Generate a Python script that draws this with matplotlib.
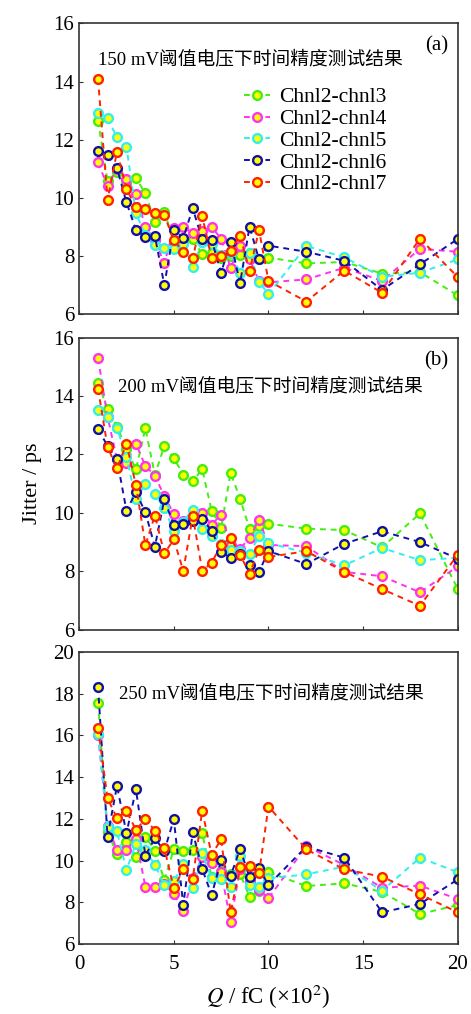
import matplotlib
matplotlib.use('Agg')
import matplotlib.pyplot as plt

plt.rcParams['font.family'] = ['Liberation Serif', 'Noto Sans CJK SC', 'DejaVu Sans']
plt.rcParams['mathtext.fontset'] = 'stix'

# 电荷量 Q (x100 fC)
q = [1, 1.5, 2, 2.5, 3, 3.5, 4, 4.5, 5, 5.5, 6, 6.5, 7, 7.5, 8, 8.5, 9, 9.5, 10, 12, 14, 16, 18, 20]

labels = ['Chnl2-chnl3', 'Chnl2-chnl4', 'Chnl2-chnl5', 'Chnl2-chnl6', 'Chnl2-chnl7']
colors = ['#44ee11', '#ff33ee', '#33eeee', '#1111aa', '#ff2200']

# (a) 150 mV
a_ch3 = [12.66, 10.58, 10.9, 10.5, 10.67, 10.16, 9.18, 9.53, 8.5, 8.45, 8.6, 8.06, 8.1, 7.95, 8.0, 8.05, 8.1, 7.9, 7.95, 7.75, 7.8, 7.4, 7.45, 6.65]
a_ch4 = [11.22, 10.4, 11.0, 10.65, 10.13, 9.0, 8.55, 7.75, 8.95, 9.0, 8.8, 8.85, 9.0, 8.6, 7.6, 8.35, 7.9, 7.15, 7.1, 7.2, 7.6, 7.15, 8.25, 8.15]
a_ch5 = [12.91, 12.74, 12.08, 11.76, 9.47, 8.72, 8.38, 8.29, 8.24, 8.4, 7.64, 8.5, 8.4, 8.05, 8.1, 7.43, 8.1, 7.12, 6.69, 8.35, 7.96, 7.29, 7.43, 7.89]
a_ch6 = [11.62, 11.46, 11.02, 9.85, 8.9, 8.67, 8.69, 7.01, 8.9, 8.63, 9.64, 8.58, 8.55, 7.43, 8.5, 7.07, 9.01, 7.89, 8.36, 8.15, 7.84, 6.84, 7.72, 8.59]
a_ch7 = [14.09, 9.93, 11.59, 10.31, 9.68, 9.62, 9.49, 9.41, 8.55, 8.15, 7.92, 9.38, 7.92, 8.02, 8.18, 8.7, 7.49, 8.9, 7.15, 6.44, 7.5, 6.74, 8.6, 7.28]

# (b) 200 mV
b_ch3 = [14.46, 13.55, 12.95, 12.2, 11.49, 12.89, 11.3, 12.29, 11.89, 11.29, 11.09, 11.49, 10.08, 9.49, 11.37, 10.49, 9.45, 9.55, 9.63, 9.46, 9.41, 8.82, 9.98, 7.39]
b_ch4 = [15.29, 13.3, 11.83, 11.71, 12.37, 11.6, 11.28, 10.57, 9.97, 9.71, 9.75, 10.0, 9.6, 9.94, 8.9, 8.77, 9.14, 9.77, 8.9, 8.86, 7.98, 7.83, 7.28, 8.17]
b_ch5 = [13.51, 13.27, 12.91, 11.9, 10.46, 11.0, 10.63, 10.17, 9.37, 9.7, 10.11, 9.46, 9.2, 8.95, 8.74, 8.7, 8.6, 9.2, 8.97, 8.63, 8.2, 8.8, 8.38, 8.46]
b_ch6 = [12.86, 12.3, 11.83, 10.08, 10.7, 10.02, 8.84, 10.46, 9.58, 9.63, 9.71, 9.79, 9.39, 8.66, 8.46, 8.59, 8.23, 7.98, 8.69, 8.25, 8.94, 9.37, 9.0, 8.43]
b_ch7 = [14.25, 12.26, 11.52, 12.37, 10.95, 8.89, 9.91, 8.61, 9.09, 8.02, 9.89, 8.02, 8.29, 8.91, 9.14, 8.57, 7.92, 8.74, 8.49, 8.69, 7.98, 7.39, 6.82, 8.57]

# (c) 250 mV
c_ch3 = [17.55, 11.39, 10.3, 10.9, 10.19, 11.15, 10.48, 9.07, 10.54, 10.46, 10.51, 11.31, 9.2, 9.5, 9.36, 9.36, 8.27, 8.56, 9.44, 8.78, 8.91, 8.5, 7.44, 7.87]
c_ch4 = [16.03, 11.66, 10.51, 10.51, 11.04, 8.75, 8.75, 8.9, 8.38, 7.58, 9.15, 10.16, 9.9, 9.47, 7.07, 9.6, 9.0, 8.59, 8.19, 10.7, 9.79, 8.7, 8.8, 8.16]
c_ch5 = [16.08, 11.6, 11.4, 9.55, 10.8, 10.5, 9.8, 8.83, 9.0, 9.82, 8.67, 10.35, 9.15, 9.1, 8.75, 10.22, 8.83, 8.75, 9.15, 9.34, 9.71, 8.56, 10.14, 9.44]
c_ch6 = [18.32, 11.15, 13.58, 11.31, 13.42, 10.24, 11.07, 10.46, 11.98, 7.87, 11.36, 9.6, 8.35, 10.03, 9.26, 10.56, 9.2, 9.63, 8.83, 10.67, 10.14, 7.52, 7.92, 9.1]
c_ch7 = [16.35, 12.99, 12.03, 12.38, 11.47, 12.0, 11.44, 10.59, 8.67, 9.58, 9.12, 12.4, 10.27, 11.02, 7.52, 9.68, 9.74, 9.39, 12.59, 10.54, 9.58, 9.23, 8.38, 7.52]

panels = [
    ([a_ch3, a_ch4, a_ch5, a_ch6, a_ch7], '150 mV阈值电压下时间精度测试结果', '(a)', (6, 16)),
    ([b_ch3, b_ch4, b_ch5, b_ch6, b_ch7], '200 mV阈值电压下时间精度测试结果', '(b)', (6, 16)),
    ([c_ch3, c_ch4, c_ch5, c_ch6, c_ch7], '250 mV阈值电压下时间精度测试结果', '', (6, 20)),
]
title_pos = [(0.05, 0.873), (0.103, 0.829), (0.105, 0.856)]

fig = plt.figure(figsize=(4.71, 10.14), dpi=100)
rects = [[0.168, 0.690, 0.804, 0.287],
         [0.168, 0.379, 0.804, 0.288],
         [0.168, 0.069, 0.804, 0.288]]

for i, (series, title, tag, ylim) in enumerate(panels):
    ax = fig.add_axes(rects[i])
    for ys, c, l in zip(series, colors, labels):
        ax.plot(q, ys, '--o', color=c, lw=1.4, dashes=(3, 2.5), ms=6.3,
                mec=c, mfc='#ffff00', mew=1.7, label=l)
    ax.set_xlim(0, 20)
    ax.set_ylim(*ylim)
    ax.set_yticks(range(ylim[0], ylim[1] + 1, 2))
    ax.set_xticks([0, 5, 10, 15, 20])
    ax.tick_params(direction='in', labelsize=15, length=3, colors='#333333',
                   labelcolor='black')
    ax.tick_params(axis='x', pad=8)
    for s in ax.spines.values():
        s.set_color('#333333')
        s.set_linewidth(1.2)
    if i < 2:
        ax.set_xticklabels([])
    else:
        ax.set_xlabel(r'$Q$ / fC (×10$^2$)', fontsize=16.5, labelpad=6)
    ax.text(title_pos[i][0], title_pos[i][1], title, transform=ax.transAxes,
            fontsize=13.5, va='center', family=['Liberation Serif', 'Noto Sans CJK SC'])
    if tag:
        ax.text(0.975, 0.955, tag, transform=ax.transAxes,
                fontsize=15, ha='right', va='top')
    if i == 0:
        ax.legend(loc='upper right', bbox_to_anchor=(0.835, 0.81), frameon=False,
                  fontsize=15.5, handlelength=1.2, handletextpad=0.45,
                  labelspacing=0.08, borderaxespad=0)
    if i == 1:
        ax.set_ylabel('Jitter / ps', fontsize=16, labelpad=8)

fig.savefig('out.png', dpi=100)
